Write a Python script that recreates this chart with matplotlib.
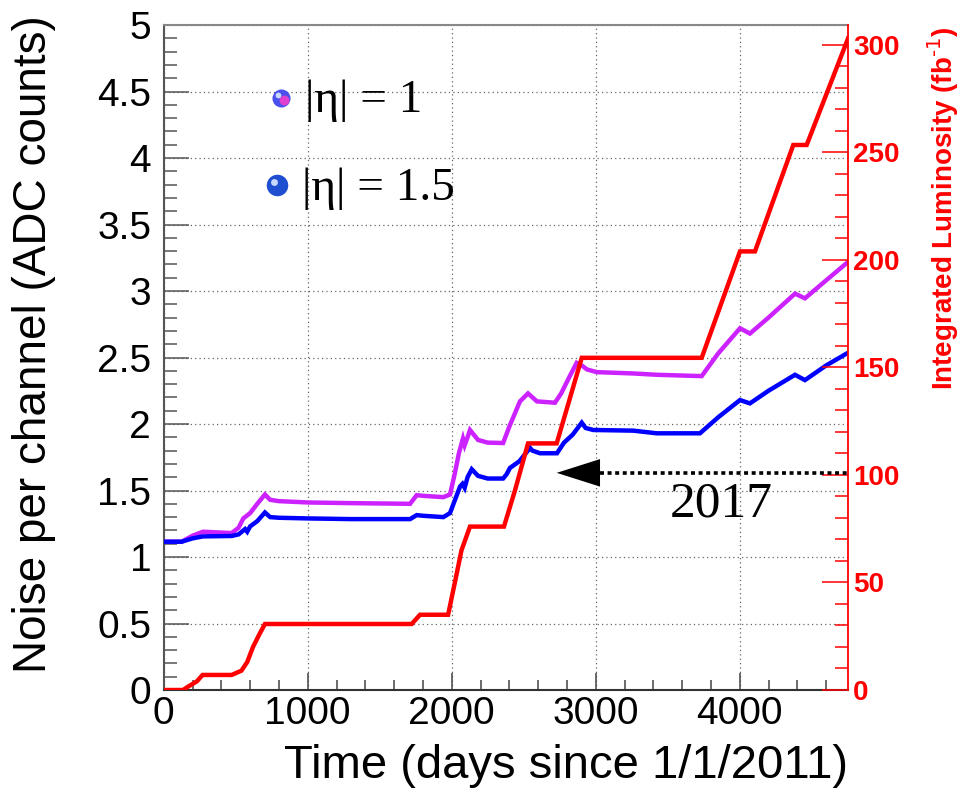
import matplotlib
matplotlib.use("Agg")
import matplotlib.pyplot as plt
from matplotlib.ticker import MultipleLocator, FuncFormatter
from matplotlib.transforms import offset_copy

# ---- data -------------------------------------------------------------
days_lumi = [0, 134, 180, 230, 270, 472, 540, 580, 620, 665, 703, 1722, 1780,
             1975, 2022, 2068, 2127, 2363, 2440, 2530, 2729, 2903, 3736, 4002,
             4106, 4372, 4465, 4752]
lumi = [0, 0, 2, 4, 7, 7, 9, 13, 20, 26, 30.7, 30.7, 35,
        35, 50, 65, 76, 76, 93, 114.7, 114.7, 154.5, 154.5, 204,
        204, 253.5, 253.5, 303]

days_eta1 = [0, 125, 200, 273, 472, 520, 553, 600, 650, 703, 739, 800, 1000,
             1300, 1711, 1757, 1800, 1942, 1988, 2020, 2050, 2078, 2090, 2110,
             2127, 2183, 2250, 2357, 2400, 2474, 2530, 2592, 2717, 2760, 2820,
             2868, 2903, 2940, 3007, 3261, 3424, 3736, 3850, 4002, 4071, 4200,
             4384, 4453, 4600, 4743]
noise_eta1 = [1.115, 1.115, 1.16, 1.19, 1.18, 1.22, 1.29, 1.33, 1.40, 1.47, 1.43,
              1.42, 1.41, 1.405, 1.40, 1.465, 1.46, 1.45, 1.47, 1.62, 1.78, 1.89,
              1.84, 1.90, 1.955, 1.88, 1.86, 1.857, 1.98, 2.17, 2.23, 2.17, 2.16,
              2.23, 2.36, 2.46, 2.44, 2.41, 2.39, 2.38, 2.37, 2.36, 2.53, 2.72,
              2.68, 2.80, 2.98, 2.945, 3.08, 3.21]

days_eta15 = [0, 125, 200, 273, 472, 520, 565, 580, 600, 650, 703, 739, 800,
              1000, 1300, 1711, 1757, 1800, 1942, 1988, 2030, 2058, 2075, 2090,
              2110, 2139, 2183, 2250, 2357, 2380, 2405, 2470, 2544, 2560, 2613,
              2731, 2780, 2840, 2903, 2930, 2983, 3261, 3424, 3724, 3850, 4002,
              4071, 4200, 4384, 4453, 4600, 4743]
noise_eta15 = [1.115, 1.115, 1.14, 1.155, 1.158, 1.17, 1.21, 1.19, 1.23, 1.27,
               1.335, 1.30, 1.295, 1.29, 1.285, 1.285, 1.315, 1.31, 1.30, 1.33,
               1.45, 1.53, 1.55, 1.52, 1.60, 1.66, 1.61, 1.59, 1.59, 1.62, 1.67,
               1.72, 1.82, 1.80, 1.78, 1.78, 1.86, 1.92, 2.01, 1.97, 1.955, 1.95,
               1.93, 1.93, 2.05, 2.18, 2.155, 2.25, 2.37, 2.33, 2.44, 2.53]

legend_labels = ["|\u03b7| = 1", "|\u03b7| = 1.5"]
year_label = "2017"
year_lumi = 101          # level of the 2017 marker on the luminosity scale
year_start_day = 2729    # arrow tip
year_arrow_base = 3030   # end of the arrow head

x_max = 4752
y_max = 5
lumi_max = 309.3

RED = "#ff0000"
BLUE = "#0000ff"
VIOLET = "#cc22ff"
SANS = ["Liberation Sans", "DejaVu Sans"]
SERIF = ["Liberation Serif", "DejaVu Serif"]

W, H = 967, 789
fig = plt.figure(figsize=(W / 100, H / 100), dpi=100)
L, R, B, T = 163.7, 848, 690, 25
ax = fig.add_axes([L / W, 1 - B / H, (R - L) / W, (B - T) / H])
ax2 = ax.twinx()

# ---- noise curves -----------------------------------------------------
ax.plot(days_eta1, noise_eta1, color=VIOLET, lw=3.2, solid_joinstyle="miter", zorder=3)
ax.plot(days_eta15, noise_eta15, color=BLUE, lw=3.2, solid_joinstyle="miter", zorder=3)

ax.set_xlim(0, x_max)
ax.set_ylim(0, y_max)
ax.xaxis.set_major_locator(MultipleLocator(1000))
ax.xaxis.set_minor_locator(MultipleLocator(200))
ax.yaxis.set_major_locator(MultipleLocator(0.5))
ax.yaxis.set_minor_locator(MultipleLocator(0.1))
ax.yaxis.set_major_formatter(FuncFormatter(lambda v, p: f"{v:g}"))

ax.grid(True, which="major", color="#666666", lw=0.9, ls=(0, (1, 2.5)))
ax.set_axisbelow(True)

ax.tick_params(axis="y", which="major", direction="in", length=18, width=1.1,
               color="#555555", labelsize=28, pad=9, right=False)
ax.tick_params(axis="y", which="minor", direction="in", length=9.4, width=1.1,
               color="#555555", right=False)
ax.tick_params(axis="x", which="major", direction="in", length=12, width=1.1,
               color="#444444", labelsize=28, pad=4, top=False)
ax.tick_params(axis="x", which="minor", direction="in", length=7, width=1.1,
               color="#444444", top=False)
for lab in ax.get_xticklabels() + ax.get_yticklabels():
    lab.set_family(SANS)

ax.spines["left"].set_color("#555555")
ax.spines["left"].set_linewidth(1.5)
ax.spines["bottom"].set_color("#333333")
ax.spines["bottom"].set_linewidth(1.5)
ax.spines["top"].set_color("#888888")
ax.spines["top"].set_linewidth(1.5)
ax.spines["right"].set_visible(False)

# ---- integrated luminosity --------------------------------------------
ax2.plot(days_lumi, lumi, color=RED, lw=3.2, solid_joinstyle="miter", zorder=4)
ax2.set_ylim(0, lumi_max)
ax2.yaxis.set_major_locator(MultipleLocator(50))
ax2.yaxis.set_minor_locator(MultipleLocator(10))
ax2.tick_params(axis="y", which="major", direction="in", length=18.5, width=1.1,
                color=RED, labelcolor=RED, labelsize=20, pad=3.5)
ax2.tick_params(axis="y", which="minor", direction="in", length=9.4, width=1.1,
                color=RED)
for lab in ax2.get_yticklabels():
    lab.set_family(SANS)
    lab.set_fontweight("bold")
for side in ("left", "top", "bottom"):
    ax2.spines[side].set_visible(False)
ax2.spines["right"].set_color(RED)
ax2.spines["right"].set_linewidth(1.3)

# 2017 marker: dotted line with a filled arrow head
ax2.plot([year_arrow_base, x_max], [year_lumi, year_lumi], color="black",
         lw=2.6, ls=(0, (1.1, 1.0)), zorder=5, clip_on=False)
head_half = 6.4
ax2.fill([year_start_day, year_arrow_base, year_arrow_base],
         [year_lumi, year_lumi + head_half, year_lumi - head_half],
         color="black", lw=0, zorder=5)
ax.text(3516, 1.308, year_label, family=SERIF, fontsize=37, color="black",
        ha="left", va="baseline", zorder=6)

# ---- legend (shaded spheres + labels) ----------------------------------
def sphere(x, y, size, base, accent=None):
    ax.plot([x], [y], marker="o", ms=size, mfc=base, mec="none", zorder=7,
            clip_on=False)
    if accent is not None:
        tr = offset_copy(ax.transData, fig=fig, x=2.0, y=-1.6, units="points")
        ax.plot([x], [y], marker="o", ms=size * 0.55, mfc=accent, mec="none",
                zorder=8, transform=tr)
    tr = offset_copy(ax.transData, fig=fig, x=-size * 0.15, y=size * 0.15,
                     units="points")
    ax.plot([x], [y], marker="o", ms=size * 0.32, mfc="#c8d8ff", mec="none",
            zorder=9, transform=tr)

sphere(815, 4.451, 13, "#4a50ee", accent="#e040d0")
sphere(787, 3.797, 15.5, "#1f4fd0")
ax.text(981, 4.346, legend_labels[0], family=SERIF, fontsize=34,
        ha="left", va="baseline", zorder=6)
ax.text(958, 3.684, legend_labels[1], family=SERIF, fontsize=34,
        ha="left", va="baseline", zorder=6)

# ---- axis titles --------------------------------------------------------
fig.text(R / W, 1 - 778 / H, "Time (days since 1/1/2011)", family=SANS,
         fontsize=34, ha="right", va="baseline")
fig.text(34 / W, 1 - 15 / H, "Noise per channel (ADC counts)", family=SANS,
         fontsize=33, rotation=90, ha="center", va="top")
fig.text(943 / W, 1 - 27 / H, r"Integrated Luminosity (fb$^{\text{-1}}$)",
         family=SANS, fontsize=20, fontweight="bold", color=RED, rotation=90,
         ha="center", va="top")

fig.savefig("out.png", dpi=100)
